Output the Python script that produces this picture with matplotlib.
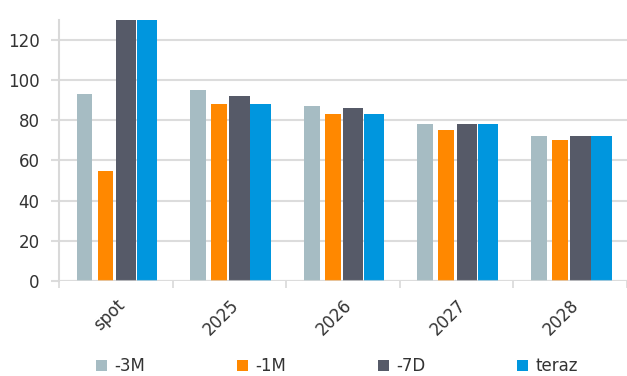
import matplotlib.pyplot as plt
import numpy as np

# dane
kategorie = ['spot', '2025', '2026', '2027', '2028']
serie = ['-3M', '-1M', '-7D', 'teraz']
v_3m = [93, 95, 87, 78, 72]
v_1m = [55, 88, 83, 75, 70]
v_7d = [145, 92, 86, 78, 72]
v_teraz = [142, 88, 83, 78, 72]

kolory = ['#a6bcc3', '#ff8800', '#565a68', '#0096de']
szerokosci = [0.14, 0.14, 0.18, 0.18]
przesuniecia = [-0.275, -0.09, 0.09, 0.275]

plt.rcParams['font.family'] = ['DejaVu Sans']

fig = plt.figure(figsize=(6.27, 3.76), dpi=100)
ax = fig.add_axes([0.094, 0.2527, 0.906, 0.6943])

x = np.arange(len(kategorie))
for wart, kol, w, dx, nazwa in zip([v_3m, v_1m, v_7d, v_teraz], kolory,
                                    szerokosci, przesuniecia, serie):
    ax.bar(x + dx, wart, width=w, color=kol, label=nazwa, zorder=2)

# linia zero przykrywa dolne krawedzie slupkow
ax.axhline(0, color='#dddddd', lw=1.5, alpha=0.7, zorder=3)

ax.set_xlim(-0.5, 4.46)
ax.set_ylim(0, 130)
ax.set_yticks(range(0, 121, 20))
ax.yaxis.grid(True, color='#dcdcdc', lw=1.5, zorder=0)
ax.set_axisbelow(True)

ax.set_xticks(x)
ax.set_xticklabels(kategorie, rotation=45, ha='right', rotation_mode='anchor')
ax.set_xticks(np.arange(-0.5, 4.6, 1), minor=True)
ax.tick_params(axis='x', which='major', length=0, pad=11)
ax.tick_params(axis='x', which='minor', length=5, color='#d9d9d9', width=1.2)
ax.tick_params(axis='y', length=6, color='#dcdcdc', width=1.5, pad=8)
ax.tick_params(labelsize=12, labelcolor='#333333')

for s in ['top', 'right', 'bottom']:
    ax.spines[s].set_visible(False)
ax.spines['left'].set_color('#d9d9d9')
ax.spines['left'].set_linewidth(1.5)

fig.legend(loc='center', bbox_to_anchor=(0.537, 0.026), ncol=4, frameon=False,
           fontsize=12, labelcolor='#333333', handlelength=0.7, handleheight=0.7,
           handletextpad=0.4, columnspacing=5.5, borderpad=0.1)

fig.savefig('out.png', dpi=100)
